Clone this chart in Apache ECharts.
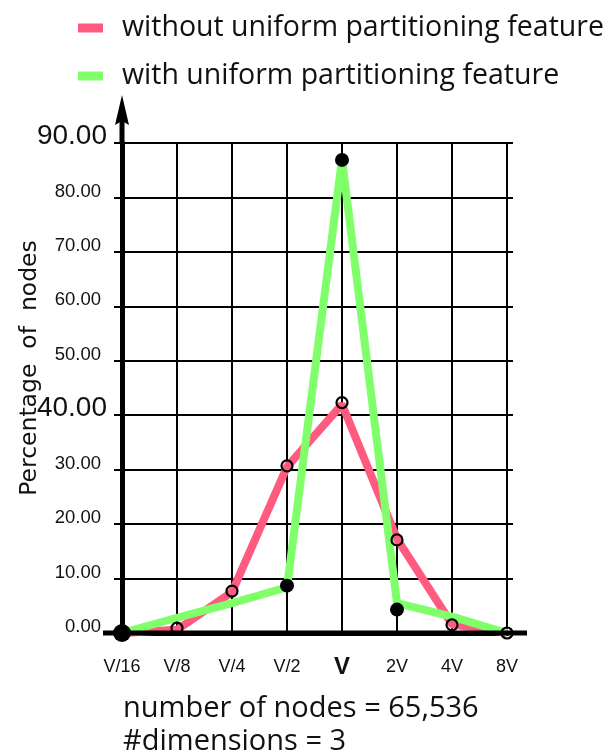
<!DOCTYPE html>
<html><head><meta charset="utf-8">
<script src="https://cdn.jsdelivr.net/npm/echarts@6/dist/echarts.min.js"></script>
<style>html,body{margin:0;padding:0;background:#fff}#c{width:610px;height:754px}</style>
</head><body><div id="c"></div>
<script>
var categories = ['V/16','V/8','V/4','V/2','V','2V','4V','8V'];
var yTicks = [0,10,20,30,40,50,60,70,80,90];
var bigTicks = [90,40];
var withoutName = 'without uniform partitioning feature';
var withName = 'with uniform partitioning feature';
var withoutVals = [0, 0.6, 7.5, 30.5, 42, 17.3, 1.6, 0];
var withVals = [0, 2.8, 5.5, 8.4, 87, 5.5, 3.0, 0];
var withoutMarkers = [null, 0.9, 7.7, 30.7, 42.3, 17.1, 1.5, 0];
var withMarkers = [0, null, null, 8.7, 86.9, 4.3, null, null];
var noteLines = ['number of nodes = 65,536', '#dimensions = 3'];

var PINK = '#FF5A80', GREEN = '#80FF6A';
var chart = echarts.init(document.getElementById('c'), null, {renderer:'canvas'});
var option = {
  animation: false,
  backgroundColor: '#fff',
  grid: {left:122, right:103, top:143, bottom:121, containLabel:false, outerBoundsMode:'none'},
  legend: {
    data: [withoutName, withName], orient:'vertical', left:73, top:6,
    icon:'rect', itemWidth:25, itemHeight:9, itemGap:14,
    textStyle:{fontFamily:'Open Sans', fontSize:28.5, lineHeight:34, color:'#111', padding:[0,0,0,14]}
  },
  title: [
    {text: noteLines[0], left:118, top:689, textStyle:{fontFamily:'Open Sans', fontWeight:'normal', fontSize:29, color:'#111'}},
    {text: noteLines[1], left:118, top:722, textStyle:{fontFamily:'Open Sans', fontWeight:'normal', fontSize:29, color:'#111'}}
  ],
  xAxis: [{
    type:'category', data: categories, boundaryGap:false,
    axisLine:{show:true, lineStyle:{color:'#000', width:5}},
    axisTick:{show:false},
    splitLine:{show:true, interval:0, lineStyle:{color:'#000', width:2}},
    axisLabel:{margin:34, interval:0, verticalAlign:'middle',
      formatter:function(v){return v==='V' ? '{bold|V}' : '{norm|' + v + '}';},
      rich:{norm:{fontFamily:'Liberation Sans', fontSize:18, color:'#111'},
            bold:{fontFamily:'Liberation Sans', fontSize:24, fontWeight:'bold', color:'#111'}}}
  },{
    type:'category', data: categories, boundaryGap:false, position:'top',
    axisLine:{show:false}, axisLabel:{show:false},
    axisTick:{show:true, interval:0, length:6, lineStyle:{color:'#000', width:2}}
  }],
  yAxis: [{
    type:'value', min:0, max:90, interval:10,
    name:'Percentage  of  nodes', nameLocation:'middle', nameRotate:90, nameGap:80, nameMoveOverlap:false,
    nameTextStyle:{fontFamily:'DejaVu Sans', fontSize:23.5, color:'#111', padding:[0,0,0,40]},
    axisLine:{show:true, lineStyle:{color:'#000', width:5}},
    axisTick:{show:true, length:8, lineStyle:{color:'#000', width:2}},
    splitLine:{show:true, lineStyle:{color:'#000', width:2}},
    axisLabel:{margin:15, color:'#111',
      formatter:function(v){return (bigTicks.indexOf(v)>=0 ? '{big|' : '{small|') + v.toFixed(2) + '}';},
      rich:{big:{fontFamily:'Liberation Sans', fontSize:28, color:'#111', padding:[0,0,14,0]},
            small:{fontFamily:'Liberation Sans', fontSize:18.5, color:'#111', padding:[0,6,12,0]}}}
  },{
    type:'value', min:0, max:90, interval:10, position:'right',
    axisLine:{show:false}, axisLabel:{show:false}, splitLine:{show:false},
    axisTick:{show:true, length:6, lineStyle:{color:'#000', width:2}}
  }],
  series: [
    {name: withoutName, type:'line', data: withoutVals, symbol:'none', z:2,
     lineStyle:{color:PINK, width:8}, itemStyle:{color:PINK}},
    {name: withName, type:'line', data: withVals, symbol:'none', z:3,
     lineStyle:{color:GREEN, width:8}, itemStyle:{color:GREEN}},
    {name:'m1', type:'scatter', data: withoutMarkers, symbol:'circle', symbolSize:11, z:5,
     itemStyle:{color:'rgba(0,0,0,0)', borderColor:'#000', borderWidth:2.2, opacity:1}},
    {name:'m2', type:'scatter', data: withMarkers, symbol:'circle', z:6,
     symbolSize:function(v,p){return p.dataIndex===0 ? 18 : 14;},
     itemStyle:{color:'#000', opacity:1}}
  ]
};
chart.setOption(option);
var o = chart.convertToPixel({xAxisIndex:0, yAxisIndex:0}, [0, 0]);
var e = chart.convertToPixel({xAxisIndex:0, yAxisIndex:0}, [categories.length-1, 90]);
chart.setOption({graphic:[
  {type:'line', shape:{x1:o[0]-19, y1:o[1], x2:e[0]+20, y2:o[1]}, style:{stroke:'#000', lineWidth:5}, z:10},
  {type:'line', shape:{x1:o[0], y1:e[1], x2:o[0], y2:e[1]-22}, style:{stroke:'#000', lineWidth:5}, z:10},
  {type:'polygon', shape:{points:[[o[0],e[1]-48],[o[0]-7,e[1]-18],[o[0],e[1]-22],[o[0]+7,e[1]-18]]}, style:{fill:'#000'}, z:10}
]});
</script></body></html>
